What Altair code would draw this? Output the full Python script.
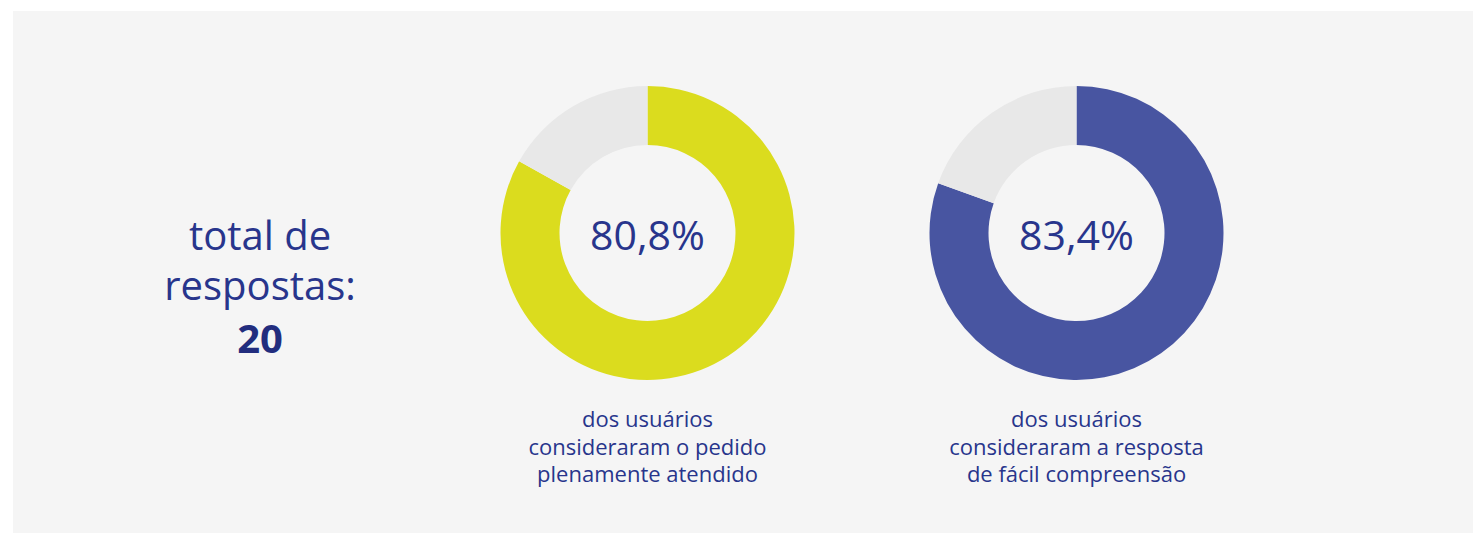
import altair as alt
import pandas as pd

# ---- data ----
total_lines = ["total de", "respostas:"]
total_value = "20"

pct_labels = ["80,8%", "83,4%"]
arc_done = [83.1, 80.5]   # coloured share of each ring as drawn
arc_rest = [16.9, 19.5]   # grey remainder as drawn
ring_colors = ["#DBDC1E", "#4855A1"]
captions = [
    ["dos usuários", "consideraram o pedido", "plenamente atendido"],
    ["dos usuários", "consideraram a resposta", "de fácil compreensão"],
]

FONT = "Open Sans"
TXT = "#28358C"
GREY = "#E8E8E8"
H = 522
PANEL_W = [420, 429, 611]

# ---- left text panel ----
txt_df = pd.DataFrame({"k": [0]})
left_base = alt.Chart(txt_df)
left_lines = left_base.mark_text(
    font=FONT, fontSize=40, color=TXT, align="center", baseline="alphabetic",
    lineHeight=50,
).encode(x=alt.value(247), y=alt.value(239), text=alt.value(total_lines))
left_num = left_base.mark_text(
    font=FONT, fontSize=40, fontWeight="bold", color="#222D7E", align="center",
    baseline="alphabetic",
).encode(x=alt.value(247), y=alt.value(342), text=alt.value(total_value))
left = alt.layer(left_lines, left_num).properties(width=PANEL_W[0], height=H)


def donut(i, w):
    df = pd.DataFrame({
        "part": ["done", "rest"],
        "value": [arc_done[i], arc_rest[i]],
        "idx": [0, 1],
    })
    cx = 214.5
    ring = alt.Chart(df).mark_arc(outerRadius=147, innerRadius=88, stroke=None).encode(
        theta=alt.Theta("value:Q", stack=True),
        color=alt.Color("part:N", scale=alt.Scale(domain=["done", "rest"],
                                                  range=[ring_colors[i], GREY]),
                        legend=None),
        order=alt.Order("idx:Q"),
        x=alt.value(cx),
        y=alt.value(222),
    )
    lbase = alt.Chart(txt_df)
    pct = lbase.mark_text(
        font=FONT, fontSize=41, color=TXT, align="center", baseline="alphabetic",
    ).encode(x=alt.value(cx), y=alt.value(239), text=alt.value(pct_labels[i]))
    cap = lbase.mark_text(
        font=FONT, fontSize=22, color=TXT, align="center", baseline="alphabetic",
        lineHeight=27.5,
    ).encode(x=alt.value(cx), y=alt.value(416), text=alt.value(captions[i]))
    return alt.layer(ring, pct, cap).properties(width=w, height=H)


chart = alt.hconcat(
    left, donut(0, PANEL_W[1]), donut(1, PANEL_W[2]), spacing=0
).resolve_scale(color="independent").properties(
    background="white",
    padding={"left": 5, "top": 3, "right": 0, "bottom": 0},
).configure_view(fill="#F5F5F5", stroke=None)

chart.save("out.html", embed_options={"renderer": "svg", "actions": False})
